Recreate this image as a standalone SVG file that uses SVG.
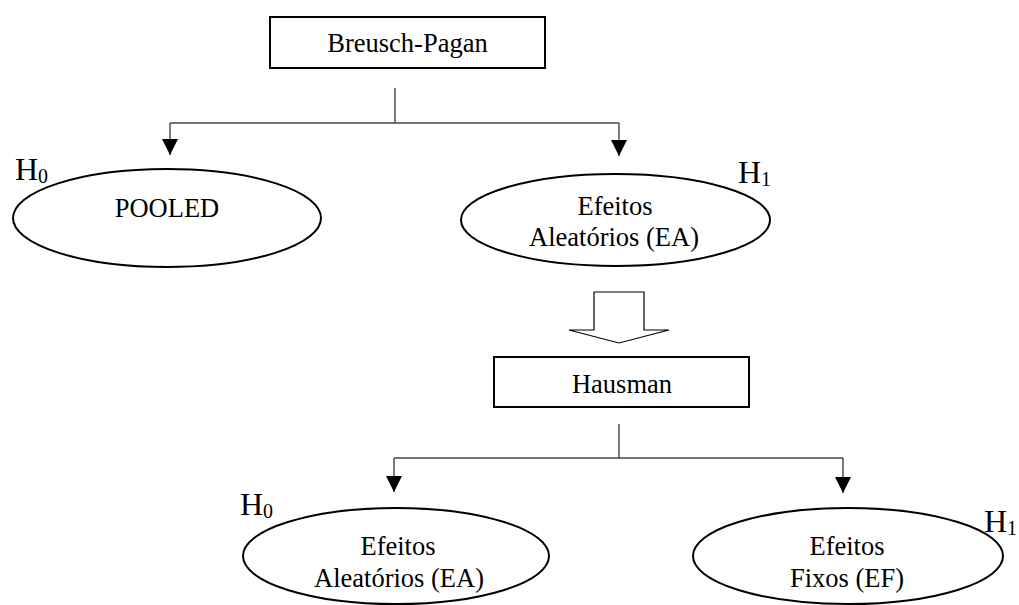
<svg xmlns="http://www.w3.org/2000/svg" width="1019" height="605" viewBox="0 0 1019 605" font-family="'Liberation Serif', 'Times New Roman', serif">
  <style>
    .box { fill: #ffffff; stroke: #000000; stroke-width: 2; }
    .oval { fill: #ffffff; stroke: #000000; stroke-width: 2; }
    .lbl { font-family: "Liberation Serif", "Times New Roman", serif; font-size: 26.5px; fill: #000000; text-anchor: middle; }
    .hyp { font-family: "Liberation Serif", "Times New Roman", serif; font-size: 32px; fill: #000000; }
    .sub { font-size: 20px; }
    .wire { fill: none; stroke: #444444; stroke-width: 1.4; }
    .big { fill: #ffffff; stroke: #000000; stroke-width: 1.2; }
  </style>
  <defs>
    <marker id="tri" viewBox="0 0 16 16" refX="16" refY="8" markerWidth="16" markerHeight="16" markerUnits="userSpaceOnUse" orient="auto">
      <path d="M0,0 L16,8 L0,16 Z" fill="#000000"/>
    </marker>
  </defs>
  <rect width="1019" height="605" fill="#ffffff"/>

  <!-- connectors -->
  <g id="connectors">
    <path class="wire" d="M395,88 V123"/>
    <path class="wire" d="M170,123 H619"/>
    <path class="wire" d="M170,123 V155" marker-end="url(#tri)"/>
    <path class="wire" d="M619,123 V156" marker-end="url(#tri)"/>
    <path class="big" d="M594,292 H644 V330 H669 L619,343 L569,330 H594 Z"/>
    <path class="wire" d="M619,424 V458"/>
    <path class="wire" d="M394,458 H843"/>
    <path class="wire" d="M394,458 V492" marker-end="url(#tri)"/>
    <path class="wire" d="M843,458 V493" marker-end="url(#tri)"/>
  </g>

  <!-- first test -->
  <g id="breusch-pagan">
    <rect class="box" x="270" y="17" width="275" height="51"/>
    <text class="lbl" x="407.5" y="52">Breusch-Pagan</text>
  </g>

  <g id="pooled">
    <ellipse class="oval" cx="167" cy="218" rx="154" ry="49"/>
    <text class="lbl" x="167" y="217">POOLED</text>
    <text class="hyp" x="15" y="180">H<tspan class="sub" dy="3">0</tspan></text>
  </g>

  <g id="ea-top">
    <ellipse class="oval" cx="615.5" cy="220" rx="154.5" ry="46"/>
    <text class="lbl" x="615" y="215">Efeitos</text>
    <text class="lbl" x="614" y="246">Aleatórios (EA)</text>
    <text class="hyp" x="738" y="183">H<tspan class="sub" dy="3">1</tspan></text>
  </g>

  <!-- second test -->
  <g id="hausman">
    <rect class="box" x="494" y="357" width="255" height="50"/>
    <text class="lbl" x="622" y="393">Hausman</text>
  </g>

  <g id="ea-bottom">
    <ellipse class="oval" cx="396" cy="556" rx="153" ry="48"/>
    <text class="lbl" x="398" y="555">Efeitos</text>
    <text class="lbl" x="399" y="587">Aleatórios (EA)</text>
    <text class="hyp" x="240" y="515">H<tspan class="sub" dy="3">0</tspan></text>
  </g>

  <g id="ef-bottom">
    <ellipse class="oval" cx="848" cy="556" rx="155" ry="48"/>
    <text class="lbl" x="847" y="555">Efeitos</text>
    <text class="lbl" x="847" y="587">Fixos (EF)</text>
    <text class="hyp" x="984" y="532">H<tspan class="sub" dy="3">1</tspan></text>
  </g>
</svg>
